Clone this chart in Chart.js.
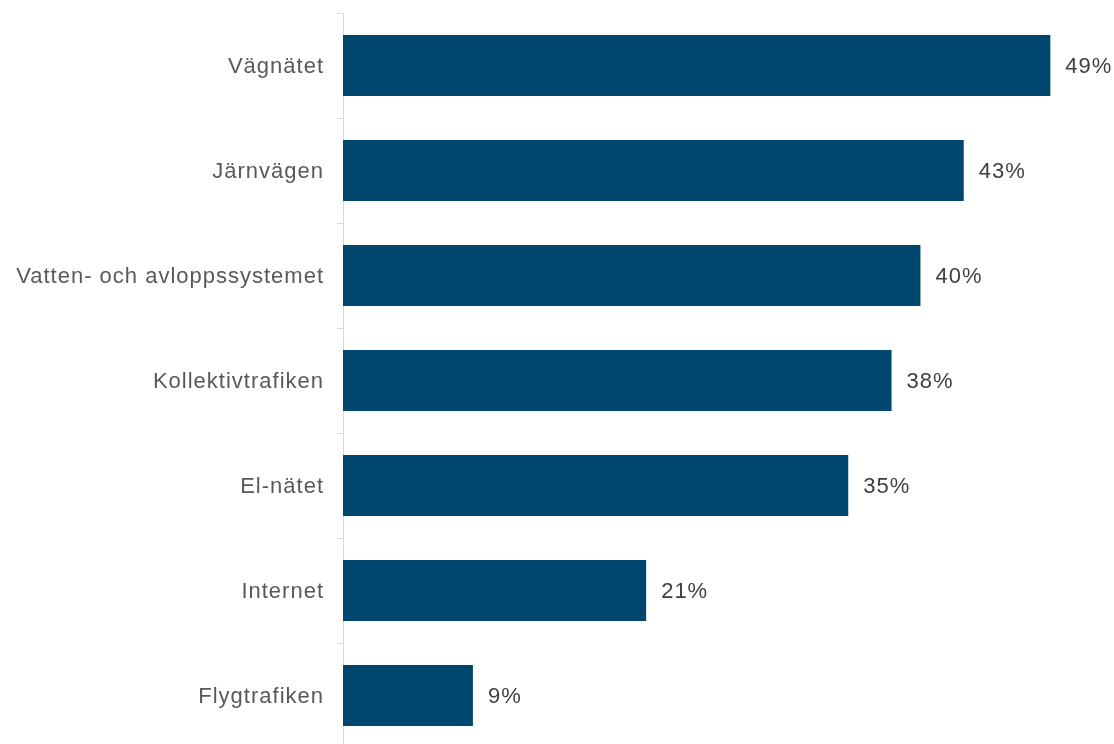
<!DOCTYPE html>
<html lang="sv">
<head>
<meta charset="utf-8">
<script src="https://cdn.jsdelivr.net/npm/chart.js@4/dist/chart.umd.min.js"></script>
<style>
  html, body { margin: 0; padding: 0; background: #ffffff; overflow: hidden; }
  #wrap { position: relative; width: 1114px; height: 749px; }
</style>
</head>
<body>
<div id="wrap"><canvas id="chart"></canvas></div>
<script>
// Andel som anger respektive infrastruktur (procent)
const categories = [
  'Vägnätet',
  'Järnvägen',
  'Vatten- och avloppssystemet',
  'Kollektivtrafiken',
  'El-nätet',
  'Internet',
  'Flygtrafiken'
];
const values = [49, 43, 40, 38, 35, 21, 9];
const valueSuffix = '%';

const FONT = '"Liberation Sans", Arial, sans-serif';
const BAR_COLOR = '#00476f';

// Category names and value labels, drawn with letter spacing via the scales
const textPlugin = {
  id: 'textLabels',
  afterDatasetsDraw(chart) {
    const ctx = chart.ctx;
    const yScale = chart.scales.y;
    const meta = chart.getDatasetMeta(0);
    ctx.save();
    ctx.letterSpacing = '1px';
    ctx.textBaseline = 'middle';
    ctx.font = '22px ' + FONT;

    // category labels to the left of the axis
    ctx.fillStyle = '#595959';
    ctx.textAlign = 'right';
    categories.forEach((c, i) => {
      const y = yScale.getPixelForValue(i);
      ctx.fillText(c, yScale.right - 19, y + 1);
    });

    // value labels after each bar
    ctx.fillStyle = '#404040';
    ctx.textAlign = 'left';
    meta.data.forEach((bar, i) => {
      ctx.fillText(values[i] + valueSuffix, bar.x + 15, bar.y + 1);
    });
    ctx.restore();
  }
};

new Chart(document.getElementById('chart'), {
  type: 'bar',
  data: {
    labels: categories,
    datasets: [{
      data: values,
      backgroundColor: BAR_COLOR,
      borderWidth: 0,
      categoryPercentage: 1.0,
      barPercentage: 0.58
    }]
  },
  options: {
    indexAxis: 'y',
    responsive: true,
    maintainAspectRatio: false,
    animation: false,
    layout: { padding: { top: 13, right: 42, bottom: 1, left: 0 } },
    plugins: {
      legend: { display: false },
      tooltip: { enabled: false }
    },
    scales: {
      x: {
        display: false,
        min: 0,
        max: 50.5
      },
      y: {
        afterFit(scale) { scale.width = 343; },
        grid: {
          display: true,
          drawOnChartArea: false,
          drawTicks: true,
          tickLength: 6,
          color: '#d9d9d9',
          offset: true
        },
        border: { display: true, color: '#d9d9d9', width: 1 },
        ticks: {
          display: true,
          color: 'rgba(0,0,0,0)',
          font: { size: 1 },
          padding: 0
        }
      }
    }
  },
  plugins: [textPlugin]
});
</script>
</body>
</html>
